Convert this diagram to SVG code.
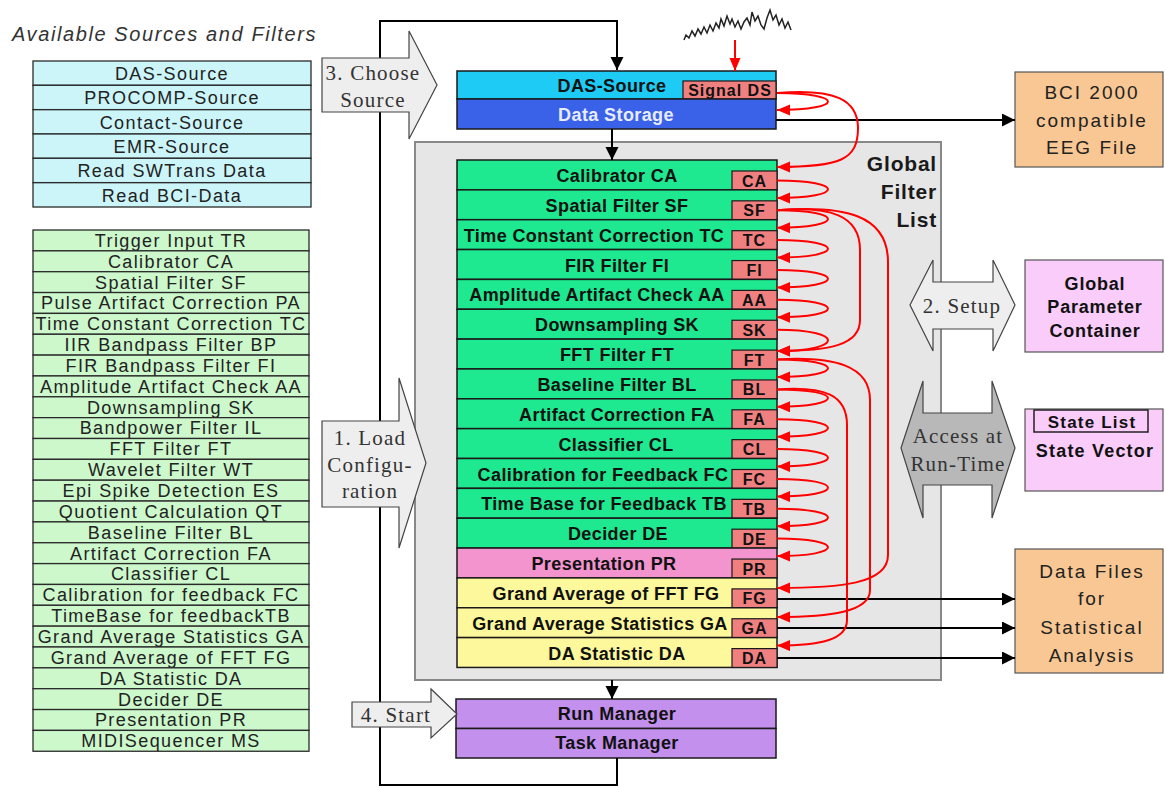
<svg xmlns="http://www.w3.org/2000/svg" width="1165" height="788" viewBox="0 0 1165 788">
<style>
.lt{font-family:"Liberation Sans",Arial,sans-serif;font-size:18px;letter-spacing:1.4px;fill:#222;text-anchor:middle}
.b{font-family:"Liberation Sans",Arial,sans-serif;font-weight:bold;font-size:18px;letter-spacing:0.4px;fill:#111;text-anchor:middle}
.tg{font-family:"Liberation Sans",Arial,sans-serif;font-weight:bold;font-size:16px;letter-spacing:1px;fill:#111;text-anchor:middle}
.sf{font-family:"Liberation Serif","Times New Roman",serif;font-size:21px;letter-spacing:1.2px;fill:#333;text-anchor:middle}
.rg{font-family:"Liberation Sans",Arial,sans-serif;font-size:19px;letter-spacing:2px;fill:#222;text-anchor:middle}
.src rect{fill:#ccf5fa;stroke:#2a2a2a;stroke-width:1.3}
.flt rect{fill:#ccf8cc;stroke:#2a2a2a;stroke-width:1.3}
.row{stroke:#1a1a1a;stroke-width:1.5}
.g{fill:#1ee890}
.p{fill:#f394cf}
.y{fill:#fdf89c}
.tag{fill:#f08080;stroke:#1a1a1a;stroke-width:1.2}
.red{fill:none;stroke:#ff0000;stroke-width:2;marker-end:url(#ra)}
.blk{fill:none;stroke:#000;stroke-width:2}
.ba{fill:#eeeeee;stroke:#444;stroke-width:1.2}
</style>
<defs>
<marker id="ka" markerUnits="userSpaceOnUse" markerWidth="14" markerHeight="14" refX="13" refY="6.5" orient="auto"><path d="M0,0 L13,6.5 L0,13 z" fill="#000"/></marker>
<marker id="ra" markerUnits="userSpaceOnUse" markerWidth="14" markerHeight="12" refX="13" refY="5.5" orient="auto"><path d="M0,0 L13,5.5 L0,11 z" fill="#ff0000"/></marker>
</defs>
<rect width="1165" height="788" fill="#fff"/>

<text x="12" y="41" style="font-family:'Liberation Sans',Arial,sans-serif;font-style:italic;font-size:20px;letter-spacing:1.6px;fill:#333">Available Sources and Filters</text>

<g id="source-list" class="src">
<rect x="33" y="61" width="278" height="24.3"/><text class="lt" x="172" y="79.5">DAS-Source</text>
<rect x="33" y="85.3" width="278" height="24.3"/><text class="lt" x="172" y="104">PROCOMP-Source</text>
<rect x="33" y="109.7" width="278" height="24.3"/><text class="lt" x="172" y="128.5">Contact-Source</text>
<rect x="33" y="134" width="278" height="24.3"/><text class="lt" x="172" y="152.5">EMR-Source</text>
<rect x="33" y="158.3" width="278" height="24.3"/><text class="lt" x="172" y="177">Read SWTrans Data</text>
<rect x="33" y="182.7" width="278" height="24.3"/><text class="lt" x="172" y="201.5">Read BCI-Data</text>
</g>

<g id="filter-list" class="flt">
<rect x="33" y="230" width="276" height="20.85"/><text class="lt" x="171" y="246.8">Trigger Input TR</text>
<rect x="33" y="250.85" width="276" height="20.85"/><text class="lt" x="171" y="267.6">Calibrator CA</text>
<rect x="33" y="271.7" width="276" height="20.85"/><text class="lt" x="171" y="288.5">Spatial Filter SF</text>
<rect x="33" y="292.55" width="276" height="20.85"/><text class="lt" x="171" y="309.3">Pulse Artifact Correction PA</text>
<rect x="33" y="313.4" width="276" height="20.85"/><text class="lt" x="171" y="330.2">Time Constant Correction TC</text>
<rect x="33" y="334.25" width="276" height="20.85"/><text class="lt" x="171" y="351">IIR Bandpass Filter BP</text>
<rect x="33" y="355.1" width="276" height="20.85"/><text class="lt" x="171" y="371.9">FIR Bandpass Filter FI</text>
<rect x="33" y="375.95" width="276" height="20.85"/><text class="lt" x="171" y="392.7">Amplitude Artifact Check AA</text>
<rect x="33" y="396.8" width="276" height="20.85"/><text class="lt" x="171" y="413.6">Downsampling SK</text>
<rect x="33" y="417.65" width="276" height="20.85"/><text class="lt" x="171" y="434.4">Bandpower Filter IL</text>
<rect x="33" y="438.5" width="276" height="20.85"/><text class="lt" x="171" y="455.3">FFT Filter FT</text>
<rect x="33" y="459.35" width="276" height="20.85"/><text class="lt" x="171" y="476.1">Wavelet Filter WT</text>
<rect x="33" y="480.2" width="276" height="20.85"/><text class="lt" x="171" y="497">Epi Spike Detection ES</text>
<rect x="33" y="501.05" width="276" height="20.85"/><text class="lt" x="171" y="517.8">Quotient Calculation QT</text>
<rect x="33" y="521.9" width="276" height="20.85"/><text class="lt" x="171" y="538.7">Baseline Filter BL</text>
<rect x="33" y="542.75" width="276" height="20.85"/><text class="lt" x="171" y="559.5">Artifact Correction FA</text>
<rect x="33" y="563.6" width="276" height="20.85"/><text class="lt" x="171" y="580.4">Classifier CL</text>
<rect x="33" y="584.45" width="276" height="20.85"/><text class="lt" x="171" y="601.2">Calibration for feedback FC</text>
<rect x="33" y="605.3" width="276" height="20.85"/><text class="lt" x="171" y="622.1">TimeBase for feedbackTB</text>
<rect x="33" y="626.15" width="276" height="20.85"/><text class="lt" x="171" y="642.9">Grand Average Statistics GA</text>
<rect x="33" y="647" width="276" height="20.85"/><text class="lt" x="171" y="663.8">Grand Average of FFT FG</text>
<rect x="33" y="667.85" width="276" height="20.85"/><text class="lt" x="171" y="684.6">DA Statistic DA</text>
<rect x="33" y="688.7" width="276" height="20.85"/><text class="lt" x="171" y="705.5">Decider DE</text>
<rect x="33" y="709.55" width="276" height="20.85"/><text class="lt" x="171" y="726.3">Presentation PR</text>
<rect x="33" y="730.4" width="276" height="20.85"/><text class="lt" x="171" y="747.2">MIDISequencer MS</text>
</g>

<g id="global-filter-list">
<rect x="415" y="142" width="526" height="538" fill="#e6e6e6" stroke="#888" stroke-width="2"/>
<text x="937" y="171" style="font-family:'Liberation Sans',Arial,sans-serif;font-weight:bold;font-size:21px;letter-spacing:0.8px;fill:#1a1a1a;text-anchor:end">Global</text>
<text x="937" y="199" style="font-family:'Liberation Sans',Arial,sans-serif;font-weight:bold;font-size:21px;letter-spacing:0.8px;fill:#1a1a1a;text-anchor:end">Filter</text>
<text x="937" y="227" style="font-family:'Liberation Sans',Arial,sans-serif;font-weight:bold;font-size:21px;letter-spacing:0.8px;fill:#1a1a1a;text-anchor:end">List</text>
</g>

<g id="das-source">
<rect x="457" y="71" width="319" height="28" fill="#1ecbf5" class="row"/>
<text class="b" x="612" y="91.5">DAS-Source</text>
<rect x="683" y="81" width="93" height="18" class="tag"/>
<text class="tg" x="730" y="96">Signal DS</text>
</g>
<g id="data-storage">
<rect x="457" y="99" width="319" height="30" fill="#3a62e8" class="row"/>
<text class="b" x="616" y="121" style="fill:#e8ecff">Data Storage</text>
</g>

<g id="signal">
<polyline points="684,40 686,35 689,38 692,31 695,36 698,29 701,34 704,27 707,33 710,25 713,31 716,23 719,28 721,19 724,26 727,16 730,24 732,19 735,27 738,21 741,29 744,22 747,18 750,25 752,12 755,21 758,16 761,25 764,29 767,18 770,10 773,20 776,15 779,25 782,19 785,28 788,22 791,30" fill="none" stroke="#222" stroke-width="1.5"/>
</g>

<g id="filters">
<g id="f-ca"><rect x="457" y="160" width="320" height="29.85" class="row g"/><text class="b" x="617" y="182">Calibrator CA</text><rect x="732" y="171" width="45" height="18.85" class="tag"/><text class="tg" x="754.5" y="186.5">CA</text></g>
<g id="f-sf"><rect x="457" y="189.85" width="320" height="29.85" class="row g"/><text class="b" x="617" y="211.85">Spatial Filter SF</text><rect x="732" y="200.85" width="45" height="18.85" class="tag"/><text class="tg" x="754.5" y="216.35">SF</text></g>
<g id="f-tc"><rect x="457" y="219.7" width="320" height="29.85" class="row g"/><text class="b" x="594" y="241.7">Time Constant Correction TC</text><rect x="732" y="230.7" width="45" height="18.85" class="tag"/><text class="tg" x="754.5" y="246.2">TC</text></g>
<g id="f-fi"><rect x="457" y="249.55" width="320" height="29.85" class="row g"/><text class="b" x="617" y="271.55">FIR Filter FI</text><rect x="732" y="260.55" width="45" height="18.85" class="tag"/><text class="tg" x="754.5" y="276.05">FI</text></g>
<g id="f-aa"><rect x="457" y="279.4" width="320" height="29.85" class="row g"/><text class="b" x="597" y="301.4">Amplitude Artifact Check AA</text><rect x="732" y="290.4" width="45" height="18.85" class="tag"/><text class="tg" x="754.5" y="305.9">AA</text></g>
<g id="f-sk"><rect x="457" y="309.25" width="320" height="29.85" class="row g"/><text class="b" x="617" y="331.25">Downsampling SK</text><rect x="732" y="320.25" width="45" height="18.85" class="tag"/><text class="tg" x="754.5" y="335.75">SK</text></g>
<g id="f-ft"><rect x="457" y="339.1" width="320" height="29.85" class="row g"/><text class="b" x="617" y="361.1">FFT Filter FT</text><rect x="732" y="350.1" width="45" height="18.85" class="tag"/><text class="tg" x="754.5" y="365.6">FT</text></g>
<g id="f-bl"><rect x="457" y="368.95" width="320" height="29.85" class="row g"/><text class="b" x="617" y="390.95">Baseline Filter BL</text><rect x="732" y="379.95" width="45" height="18.85" class="tag"/><text class="tg" x="754.5" y="395.45">BL</text></g>
<g id="f-fa"><rect x="457" y="398.8" width="320" height="29.85" class="row g"/><text class="b" x="617" y="420.8">Artifact Correction FA</text><rect x="732" y="409.8" width="45" height="18.85" class="tag"/><text class="tg" x="754.5" y="425.3">FA</text></g>
<g id="f-cl"><rect x="457" y="428.65" width="320" height="29.85" class="row g"/><text class="b" x="616" y="450.65">Classifier CL</text><rect x="732" y="439.65" width="45" height="18.85" class="tag"/><text class="tg" x="754.5" y="455.15">CL</text></g>
<g id="f-fc"><rect x="457" y="458.5" width="320" height="29.85" class="row g"/><text class="b" x="603" y="480.5">Calibration for Feedback FC</text><rect x="732" y="469.5" width="45" height="18.85" class="tag"/><text class="tg" x="754.5" y="485">FC</text></g>
<g id="f-tb"><rect x="457" y="488.35" width="320" height="29.85" class="row g"/><text class="b" x="604" y="510.35">Time Base for Feedback TB</text><rect x="732" y="499.35" width="45" height="18.85" class="tag"/><text class="tg" x="754.5" y="514.85">TB</text></g>
<g id="f-de"><rect x="457" y="518.2" width="320" height="29.85" class="row g"/><text class="b" x="618" y="540.2">Decider DE</text><rect x="732" y="529.2" width="45" height="18.85" class="tag"/><text class="tg" x="754.5" y="544.7">DE</text></g>
<g id="f-pr"><rect x="457" y="548.05" width="320" height="29.85" class="row p"/><text class="b" x="604" y="570.05">Presentation PR</text><rect x="732" y="559.05" width="45" height="18.85" class="tag"/><text class="tg" x="754.5" y="574.55">PR</text></g>
<g id="f-fg"><rect x="457" y="577.9" width="320" height="29.85" class="row y"/><text class="b" x="606" y="599.9">Grand Average of FFT FG</text><rect x="732" y="588.9" width="45" height="18.85" class="tag"/><text class="tg" x="754.5" y="604.4">FG</text></g>
<g id="f-ga"><rect x="457" y="607.75" width="320" height="29.85" class="row y"/><text class="b" x="600" y="629.75">Grand Average Statistics GA</text><rect x="732" y="618.75" width="45" height="18.85" class="tag"/><text class="tg" x="754.5" y="634.25">GA</text></g>
<g id="f-da"><rect x="457" y="637.6" width="320" height="29.85" class="row y"/><text class="b" x="617" y="659.6">DA Statistic DA</text><rect x="732" y="648.6" width="45" height="18.85" class="tag"/><text class="tg" x="754.5" y="664.1">DA</text></g>
</g>

<g id="run-manager">
<rect x="456" y="699" width="320" height="29.5" fill="#c390ee" class="row"/>
<text class="b" x="617" y="720">Run Manager</text>
</g>
<g id="task-manager">
<rect x="456" y="728.5" width="320" height="29.5" fill="#c390ee" class="row"/>
<text class="b" x="617" y="749">Task Manager</text>
</g>

<g id="bci-file">
<rect x="1015" y="72" width="148" height="95" fill="#f8c793" stroke="#555" stroke-width="1.2"/>
<text class="rg" x="1092" y="99">BCI 2000</text>
<text class="rg" x="1092" y="127">compatible</text>
<text class="rg" x="1092" y="154">EEG File</text>
</g>
<g id="global-parameter-container">
<rect x="1025" y="260" width="138" height="92" fill="#f9ccf9" stroke="#555" stroke-width="1.2"/>
<text class="b" x="1095" y="290" style="letter-spacing:0.8px">Global</text>
<text class="b" x="1095" y="313" style="letter-spacing:0.8px">Parameter</text>
<text class="b" x="1095" y="337" style="letter-spacing:0.8px">Container</text>
</g>
<g id="state-vector">
<rect x="1025" y="409" width="138" height="82" fill="#f9ccf9" stroke="#555" stroke-width="1.2"/>
<rect x="1034" y="410" width="114" height="22" fill="#f9ccf9" stroke="#222" stroke-width="1.5"/>
<text class="b" x="1092" y="428" style="font-size:17px;letter-spacing:1.2px">State List</text>
<text class="b" x="1095" y="457" style="letter-spacing:1.2px">State Vector</text>
</g>
<g id="data-files">
<rect x="1015" y="549" width="148" height="124" fill="#f8c793" stroke="#555" stroke-width="1.2"/>
<text class="rg" x="1092" y="578">Data Files</text>
<text class="rg" x="1092" y="605">for</text>
<text class="rg" x="1092" y="634">Statistical</text>
<text class="rg" x="1092" y="662">Analysis</text>
</g>

<g id="connectors">
<path class="blk" d="M617,758 L617,785 L380,785 L380,21 L617,21 L617,70" marker-end="url(#ka)"/>
<path class="blk" d="M612,129 L612,160" marker-end="url(#ka)"/>
<path class="blk" d="M612,680 L612,699" marker-end="url(#ka)"/>
<path class="blk" d="M776,120 L1015,120" marker-end="url(#ka)"/>
<path class="blk" d="M777,599 L1015,599" marker-end="url(#ka)"/>
<path class="blk" d="M777,628 L1015,628" marker-end="url(#ka)"/>
<path class="blk" d="M777,658 L1015,658" marker-end="url(#ka)"/>
<path class="red" d="M735,40 L735,71"/>
<path class="red" d="M777,93 C845,93 845,110 777,110"/>
<path class="red" d="M777,93 C835,88 858,100 858,128 C858,160 840,167 777,167"/>
<path class="red" d="M777,180.4 C845,180.4 845,198 777,198"/>
<path class="red" d="M777,210.3 C845,210.3 845,227.7 777,227.7"/>
<path class="red" d="M777,240.1 C845,240.1 845,257.6 777,257.6"/>
<path class="red" d="M777,270 C845,270 845,287.4 777,287.4"/>
<path class="red" d="M777,299.8 C845,299.8 845,317.3 777,317.3"/>
<path class="red" d="M777,329.7 C845,329.7 845,351 777,351"/>
<path class="red" d="M777,359.5 C845,359.5 845,377 777,377"/>
<path class="red" d="M777,389.4 C845,389.4 845,406.8 777,406.8"/>
<path class="red" d="M777,419.2 C845,419.2 845,436.7 777,436.7"/>
<path class="red" d="M777,449.1 C845,449.1 845,466.5 777,466.5"/>
<path class="red" d="M777,478.9 C845,478.9 845,496.4 777,496.4"/>
<path class="red" d="M777,508.8 C845,508.8 845,526.2 777,526.2"/>
<path class="red" d="M777,538.6 C845,538.6 845,556.1 777,556.1"/>
<path class="red" d="M777,210.3 C830,206 860,215 860,250 L860,320 C860,345 830,351 777,351"/>
<path class="red" d="M777,210.3 C845,205 888,215 888,262 L888,555 C888,584 840,588 777,588"/>
<path class="red" d="M777,359.5 C835,356 870,366 870,400 L870,590 C870,612 830,617 777,617"/>
<path class="red" d="M777,389.4 C825,386 847,395 847,425 L847,620 C847,640 820,645.6 777,645.6"/>
</g>

<g id="arrow-choose-source">
<polygon class="ba" points="322,58 409,58 409,31 437,85 409,139 409,112 322,112"/>
<text class="sf" x="373" y="80">3. Choose</text>
<text class="sf" x="373" y="107">Source</text>
</g>
<g id="arrow-load-configuration">
<polygon class="ba" points="322,421 399,421 399,378 426,463 399,548 399,507 322,507"/>
<text class="sf" x="370" y="445">1. Load</text>
<text class="sf" x="370" y="472">Configu-</text>
<text class="sf" x="370" y="498">ration</text>
</g>
<g id="arrow-start">
<polygon class="ba" points="352,702 431,702 431,689 457,714 431,738 431,727 352,727"/>
<text class="sf" x="396" y="722">4. Start</text>
</g>
<g id="arrow-setup">
<polygon class="ba" points="910,305 933,260 933,282 993,282 993,260 1015,305 993,351 993,329 933,329 933,351"/>
<text class="sf" x="962" y="313">2. Setup</text>
</g>
<g id="arrow-access">
<polygon points="901,448 923,381 923,413 992,413 992,381 1015,448 992,518 992,485 923,485 923,518" fill="#b8b8b8" stroke="#444" stroke-width="1.2"/>
<text class="sf" x="958" y="443">Access at</text>
<text class="sf" x="958" y="471">Run-Time</text>
</g>
</svg>
